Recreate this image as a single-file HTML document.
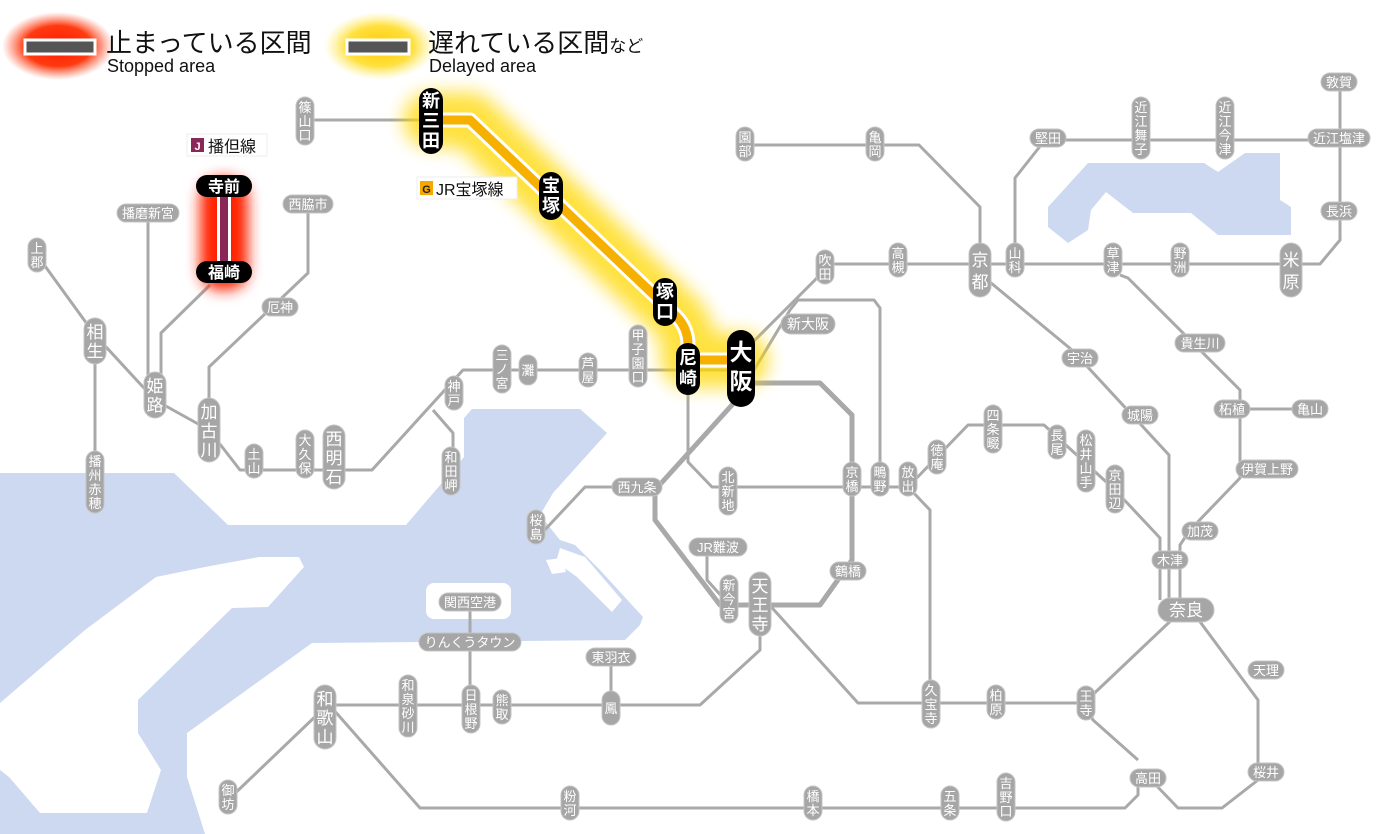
<!DOCTYPE html>
<html><head><meta charset="utf-8"><style>
html,body{margin:0;padding:0;background:#fff;width:1400px;height:834px;overflow:hidden}
svg{display:block}
.s{fill:#a6a6a6;stroke:#c4c4c4;stroke-width:1}
.b{fill:#000}
.t{fill:#fff;font-family:"Liberation Sans","Noto Sans CJK JP",sans-serif;font-size:13px;text-anchor:middle}
.T{fill:#fff;font-family:"Liberation Sans","Noto Sans CJK JP",sans-serif;font-size:17px;text-anchor:middle}
.B{fill:#fff;font-family:"Liberation Sans","Noto Sans CJK JP",sans-serif;font-size:18px;font-weight:bold;text-anchor:middle}
.l{fill:none;stroke:#a9a9a9;stroke-width:3;stroke-linejoin:round}
.lg{font-family:"Liberation Sans","Noto Sans CJK JP",sans-serif;fill:#111}
</style></head><body>
<svg width="1400" height="834" viewBox="0 0 1400 834" xmlns="http://www.w3.org/2000/svg">
<defs>
<filter id="bl" x="-50%" y="-50%" width="200%" height="200%"><feGaussianBlur stdDeviation="9"/></filter>
<filter id="bl2" x="-50%" y="-50%" width="200%" height="200%"><feGaussianBlur stdDeviation="7"/></filter>
<radialGradient id="rg"><stop offset="0" stop-color="#ff1a00"/><stop offset="0.6" stop-color="#ff3a10"/><stop offset="1" stop-color="#ff6040" stop-opacity="0"/></radialGradient>
<radialGradient id="yg"><stop offset="0" stop-color="#ffcc00"/><stop offset="0.6" stop-color="#ffe040"/><stop offset="1" stop-color="#fff080" stop-opacity="0"/></radialGradient>
</defs>
<!-- sea -->
<polygon fill="#ccd9f0" points="0,473 174,473 228,525 406,525 464,457 464,418 472,409 580,409 607,433 553,493 540,515 560,540 575,545 600,570 643,617 640,625 625,640 312,643 187,733 187,777 205,834 0,834"/>
<polygon fill="#fff" points="0,703 85,630 156,577 205,567 259,557 299,557 304,567 268,607 232,608 138,700 138,733 161,770 147,813 40,813 9,777 0,770"/>
<polygon fill="#fff" points="560,548 585,557 622,600 612,612 577,577 556,562"/>
<polygon fill="#fff" points="546,560 562,558 566,572 552,574"/>
<rect x="426" y="583" width="85" height="36" rx="8" fill="#fff"/>
<polygon fill="#ccd9f0" points="1088,163 1204,163 1218,172 1245,153 1280,153 1280,200 1291,207 1291,235 1218,235 1191,213 1133,213 1106,192 1091,210 1088,230 1068,243 1048,227 1048,207"/>

<!-- gray lines -->
<g class="l">
<path d="M305,120 L431,120"/>
<path d="M37,255 L95,335 L155,400 L209,430 L240,470 L372,470 L463,370 L741,370"/>
<path d="M433,410 L453,433 L453,480"/>
<path d="M95,335 L95,490"/>
<path d="M148,213 L148,400"/>
<path d="M161,400 L161,333 L210,285"/>
<path d="M209,430 L209,367 L308,273 L308,204"/>
<path d="M688,370 L688,462 L712,487 L908,487"/>
<path d="M637,487 L585,487 L540,535"/>
<path d="M745,350 L815,280 L830,264 L1320,264 L1340,240 L1340,82"/>
<path d="M748,380 L790,310 L798,300 L874,300 L880,308 L880,487"/>
<path d="M980,265 L980,207 L919,145 L745,145"/>
<path d="M1015,265 L1015,178 L1045,140 L1339,140"/>
<path d="M985,278 L1072,350 L1169,455 L1169,600"/>
<path d="M1120,275 L1128,278 L1240,390 L1240,478 L1190,530 L1180,545 L1180,600"/>
<path d="M1232,409 L1310,409"/>
<path d="M908,487 L968,425 L1044,425 L1115,490 L1160,538 L1160,600"/>
<path d="M1180,612 L1084,703 L858,703 L765,600"/>
<path d="M1195,615 L1258,700 L1258,780 L1222,808 L1178,808 L1151,780"/>
<path d="M1138,760 L1093,720 L1084,703"/>
<path d="M1138,780 L1138,795 L1125,808 L420,808 L325,700"/>
<path d="M760,628 L760,650 L700,705 L325,705"/>
<path d="M470,602 L470,705"/>
<path d="M611,657 L611,705"/>
<path d="M320,712 L228,800"/>
<path d="M707,547 L707,580 L725,600"/>
<path d="M908,487 L930,510 L930,705"/>
<path d="M741,383 L820,383 L852,415 L852,560 L820,605 L720,605 L655,520 L655,490 L741,395" stroke-width="5"/>
</g>

<!-- glows -->
<path d="M431,120 L470,120 L676,316 Q688,328 688,345 L688,360 L741,360" fill="none" stroke="#ffd800" stroke-width="55" stroke-linejoin="round" stroke-linecap="round" filter="url(#bl)" opacity="0.75"/>
<rect x="200" y="178" width="48" height="112" rx="20" fill="#ff2000" filter="url(#bl2)"/>
<path d="M431,120 L470,120 L676,316 Q688,328 688,345 L688,360 L741,360" fill="none" stroke="#fff" stroke-width="15" stroke-linejoin="round"/>
<path d="M431,120 L470,120 L676,316 Q688,328 688,345 L688,360 L741,360" fill="none" stroke="#f5b000" stroke-width="9" stroke-linejoin="round"/>
<path d="M224,190 L224,265" stroke="#fff" stroke-width="14"/>
<path d="M224,190 L224,265" stroke="#8a2756" stroke-width="8"/>

<!-- small vertical labels -->
<g>
<rect class="s" x="296" y="97" width="18" height="48" rx="9"/><text class="t"><tspan x="305" y="112">篠</tspan><tspan x="305" y="126">山</tspan><tspan x="305" y="140">口</tspan></text>
<rect class="s" x="28" y="238" width="18" height="34" rx="9"/><text class="t"><tspan x="37" y="253">上</tspan><tspan x="37" y="267">郡</tspan></text>
<rect class="s" x="245" y="444" width="18" height="34" rx="9"/><text class="t"><tspan x="254" y="459">土</tspan><tspan x="254" y="473">山</tspan></text>
<rect class="s" x="296" y="430" width="18" height="48" rx="9"/><text class="t"><tspan x="305" y="445">大</tspan><tspan x="305" y="459">久</tspan><tspan x="305" y="473">保</tspan></text>
<rect class="s" x="86" y="451" width="18" height="62" rx="9"/><text class="t"><tspan x="95" y="466">播</tspan><tspan x="95" y="480">州</tspan><tspan x="95" y="494">赤</tspan><tspan x="95" y="508">穂</tspan></text>
<rect class="s" x="445" y="376" width="18" height="34" rx="9"/><text class="t"><tspan x="454" y="391">神</tspan><tspan x="454" y="405">戸</tspan></text>
<rect class="s" x="493" y="345" width="18" height="48" rx="9"/><text class="t"><tspan x="502" y="360">三</tspan><tspan x="502" y="374">ノ</tspan><tspan x="502" y="388">宮</tspan></text>
<rect class="s" x="519" y="355" width="18" height="30" rx="9"/><text class="t"><tspan x="528" y="375">灘</tspan></text>
<rect class="s" x="579" y="353" width="18" height="34" rx="9"/><text class="t"><tspan x="588" y="368">芦</tspan><tspan x="588" y="382">屋</tspan></text>
<rect class="s" x="629" y="325" width="18" height="62" rx="9"/><text class="t"><tspan x="638" y="340">甲</tspan><tspan x="638" y="354">子</tspan><tspan x="638" y="368">園</tspan><tspan x="638" y="382">口</tspan></text>
<rect class="s" x="442" y="447" width="18" height="48" rx="9"/><text class="t"><tspan x="451" y="462">和</tspan><tspan x="451" y="476">田</tspan><tspan x="451" y="490">岬</tspan></text>
<rect class="s" x="527" y="510" width="18" height="34" rx="9"/><text class="t"><tspan x="536" y="525">桜</tspan><tspan x="536" y="539">島</tspan></text>
<rect class="s" x="719" y="467" width="18" height="48" rx="9"/><text class="t"><tspan x="728" y="482">北</tspan><tspan x="728" y="496">新</tspan><tspan x="728" y="510">地</tspan></text>
<rect class="s" x="720" y="575" width="18" height="48" rx="9"/><text class="t"><tspan x="729" y="590">新</tspan><tspan x="729" y="604">今</tspan><tspan x="729" y="618">宮</tspan></text>
<rect class="s" x="843" y="462" width="18" height="34" rx="9"/><text class="t"><tspan x="852" y="477">京</tspan><tspan x="852" y="491">橋</tspan></text>
<rect class="s" x="871" y="462" width="18" height="34" rx="9"/><text class="t"><tspan x="880" y="477">鴫</tspan><tspan x="880" y="491">野</tspan></text>
<rect class="s" x="899" y="462" width="18" height="34" rx="9"/><text class="t"><tspan x="908" y="477">放</tspan><tspan x="908" y="491">出</tspan></text>
<rect class="s" x="928" y="440" width="18" height="34" rx="9"/><text class="t"><tspan x="937" y="455">徳</tspan><tspan x="937" y="469">庵</tspan></text>
<rect class="s" x="984" y="405" width="18" height="48" rx="9"/><text class="t"><tspan x="993" y="420">四</tspan><tspan x="993" y="434">条</tspan><tspan x="993" y="448">畷</tspan></text>
<rect class="s" x="1048" y="425" width="18" height="34" rx="9"/><text class="t"><tspan x="1057" y="440">長</tspan><tspan x="1057" y="454">尾</tspan></text>
<rect class="s" x="1077" y="430" width="18" height="62" rx="9"/><text class="t"><tspan x="1086" y="445">松</tspan><tspan x="1086" y="459">井</tspan><tspan x="1086" y="473">山</tspan><tspan x="1086" y="487">手</tspan></text>
<rect class="s" x="1106" y="465" width="18" height="48" rx="9"/><text class="t"><tspan x="1115" y="480">京</tspan><tspan x="1115" y="494">田</tspan><tspan x="1115" y="508">辺</tspan></text>
<rect class="s" x="816" y="250" width="18" height="34" rx="9"/><text class="t"><tspan x="825" y="265">吹</tspan><tspan x="825" y="279">田</tspan></text>
<rect class="s" x="889" y="243" width="18" height="34" rx="9"/><text class="t"><tspan x="898" y="258">高</tspan><tspan x="898" y="272">槻</tspan></text>
<rect class="s" x="1006" y="243" width="18" height="34" rx="9"/><text class="t"><tspan x="1015" y="258">山</tspan><tspan x="1015" y="272">科</tspan></text>
<rect class="s" x="1104" y="243" width="18" height="34" rx="9"/><text class="t"><tspan x="1113" y="258">草</tspan><tspan x="1113" y="272">津</tspan></text>
<rect class="s" x="1171" y="243" width="18" height="34" rx="9"/><text class="t"><tspan x="1180" y="258">野</tspan><tspan x="1180" y="272">洲</tspan></text>
<rect class="s" x="736" y="127" width="18" height="34" rx="9"/><text class="t"><tspan x="745" y="142">園</tspan><tspan x="745" y="156">部</tspan></text>
<rect class="s" x="866" y="127" width="18" height="34" rx="9"/><text class="t"><tspan x="875" y="142">亀</tspan><tspan x="875" y="156">岡</tspan></text>
<rect class="s" x="1132" y="97" width="18" height="62" rx="9"/><text class="t"><tspan x="1141" y="112">近</tspan><tspan x="1141" y="126">江</tspan><tspan x="1141" y="140">舞</tspan><tspan x="1141" y="154">子</tspan></text>
<rect class="s" x="1216" y="97" width="18" height="62" rx="9"/><text class="t"><tspan x="1225" y="112">近</tspan><tspan x="1225" y="126">江</tspan><tspan x="1225" y="140">今</tspan><tspan x="1225" y="154">津</tspan></text>
<rect class="s" x="399" y="675" width="18" height="62" rx="9"/><text class="t"><tspan x="408" y="690">和</tspan><tspan x="408" y="704">泉</tspan><tspan x="408" y="718">砂</tspan><tspan x="408" y="732">川</tspan></text>
<rect class="s" x="462" y="685" width="18" height="48" rx="9"/><text class="t"><tspan x="471" y="700">日</tspan><tspan x="471" y="714">根</tspan><tspan x="471" y="728">野</tspan></text>
<rect class="s" x="493" y="690" width="18" height="34" rx="9"/><text class="t"><tspan x="502" y="705">熊</tspan><tspan x="502" y="719">取</tspan></text>
<rect class="s" x="602" y="691" width="18" height="34" rx="9"/><text class="t"><tspan x="611" y="713">鳳</tspan></text>
<rect class="s" x="219" y="780" width="18" height="34" rx="9"/><text class="t"><tspan x="228" y="795">御</tspan><tspan x="228" y="809">坊</tspan></text>
<rect class="s" x="561" y="786" width="18" height="34" rx="9"/><text class="t"><tspan x="570" y="801">粉</tspan><tspan x="570" y="815">河</tspan></text>
<rect class="s" x="804" y="786" width="18" height="34" rx="9"/><text class="t"><tspan x="813" y="801">橋</tspan><tspan x="813" y="815">本</tspan></text>
<rect class="s" x="941" y="786" width="18" height="34" rx="9"/><text class="t"><tspan x="950" y="801">五</tspan><tspan x="950" y="815">条</tspan></text>
<rect class="s" x="997" y="773" width="18" height="48" rx="9"/><text class="t"><tspan x="1006" y="788">吉</tspan><tspan x="1006" y="802">野</tspan><tspan x="1006" y="816">口</tspan></text>
<rect class="s" x="922" y="680" width="18" height="48" rx="9"/><text class="t"><tspan x="931" y="695">久</tspan><tspan x="931" y="709">宝</tspan><tspan x="931" y="723">寺</tspan></text>
<rect class="s" x="987" y="685" width="18" height="34" rx="9"/><text class="t"><tspan x="996" y="700">柏</tspan><tspan x="996" y="714">原</tspan></text>
<rect class="s" x="1077" y="686" width="18" height="34" rx="9"/><text class="t"><tspan x="1086" y="701">王</tspan><tspan x="1086" y="715">寺</tspan></text>
</g>

<!-- big vertical labels -->
<g>
<rect class="s" x="84" y="318" width="22" height="46" rx="11"/><text class="T"><tspan x="95" y="338">相</tspan><tspan x="95" y="357">生</tspan></text>
<rect class="s" x="144" y="372" width="22" height="46" rx="11"/><text class="T"><tspan x="155" y="392">姫</tspan><tspan x="155" y="411">路</tspan></text>
<rect class="s" x="198" y="398" width="22" height="64" rx="11"/><text class="T"><tspan x="209" y="418">加</tspan><tspan x="209" y="437">古</tspan><tspan x="209" y="456">川</tspan></text>
<rect class="s" x="323" y="425" width="22" height="64" rx="11"/><text class="T"><tspan x="334" y="445">西</tspan><tspan x="334" y="464">明</tspan><tspan x="334" y="483">石</tspan></text>
<rect class="s" x="749" y="572" width="22" height="64" rx="11"/><text class="T"><tspan x="760" y="592">天</tspan><tspan x="760" y="611">王</tspan><tspan x="760" y="630">寺</tspan></text>
<rect class="s" x="969" y="243" width="22" height="54" rx="11"/><text class="T"><tspan x="980" y="266">京</tspan><tspan x="980" y="288">都</tspan></text>
<rect class="s" x="1280" y="243" width="22" height="54" rx="11"/><text class="T"><tspan x="1291" y="266">米</tspan><tspan x="1291" y="288">原</tspan></text>
<rect class="s" x="314" y="685" width="22" height="64" rx="11"/><text class="T"><tspan x="325" y="705">和</tspan><tspan x="325" y="724">歌</tspan><tspan x="325" y="743">山</tspan></text>
</g>

<!-- horizontal labels -->
<g>
<rect class="s" x="117" y="204" width="62" height="18" rx="9"/><text class="t" x="148" y="218">播磨新宮</text>
<rect class="s" x="283" y="195" width="50" height="18" rx="9"/><text class="t" x="308" y="209">西脇市</text>
<rect class="s" x="262" y="298" width="36" height="18" rx="9"/><text class="t" x="280" y="312">厄神</text>
<rect class="s" x="781" y="314" width="54" height="20" rx="10"/><text class="t" x="808" y="329" style="font-size:14px">新大阪</text>
<rect class="s" x="612" y="478" width="50" height="18" rx="9"/><text class="t" x="637" y="492">西九条</text>
<rect class="s" x="689" y="538" width="58" height="18" rx="9"/><text class="t" x="718" y="552">JR難波</text>
<rect class="s" x="830" y="562" width="36" height="18" rx="9"/><text class="t" x="848" y="576">鶴橋</text>
<rect class="s" x="439" y="593" width="62" height="18" rx="9"/><text class="t" x="470" y="607">関西空港</text>
<rect class="s" x="419" y="633" width="102" height="18" rx="9"/><text class="t" x="470" y="647">りんくうタウン</text>
<rect class="s" x="586" y="648" width="50" height="18" rx="9"/><text class="t" x="611" y="662">東羽衣</text>
<rect class="s" x="1062" y="349" width="36" height="18" rx="9"/><text class="t" x="1080" y="363">宇治</text>
<rect class="s" x="1122" y="406" width="36" height="18" rx="9"/><text class="t" x="1140" y="420">城陽</text>
<rect class="s" x="1030" y="129" width="36" height="18" rx="9"/><text class="t" x="1048" y="143">堅田</text>
<rect class="s" x="1321" y="73" width="36" height="18" rx="9"/><text class="t" x="1339" y="87">敦賀</text>
<rect class="s" x="1308" y="129" width="62" height="18" rx="9"/><text class="t" x="1339" y="143">近江塩津</text>
<rect class="s" x="1321" y="202" width="36" height="18" rx="9"/><text class="t" x="1339" y="216">長浜</text>
<rect class="s" x="1175" y="334" width="50" height="18" rx="9"/><text class="t" x="1200" y="348">貴生川</text>
<rect class="s" x="1214" y="400" width="36" height="18" rx="9"/><text class="t" x="1232" y="414">柘植</text>
<rect class="s" x="1292" y="400" width="36" height="18" rx="9"/><text class="t" x="1310" y="414">亀山</text>
<rect class="s" x="1236" y="460" width="62" height="18" rx="9"/><text class="t" x="1267" y="474">伊賀上野</text>
<rect class="s" x="1182" y="522" width="36" height="18" rx="9"/><text class="t" x="1200" y="536">加茂</text>
<rect class="s" x="1152" y="551" width="36" height="18" rx="9"/><text class="t" x="1170" y="565">木津</text>
<rect class="s" x="1158" y="598" width="56" height="24" rx="12"/><text class="T" x="1186" y="616">奈良</text>
<rect class="s" x="1248" y="661" width="36" height="18" rx="9"/><text class="t" x="1266" y="675">天理</text>
<rect class="s" x="1248" y="763" width="36" height="18" rx="9"/><text class="t" x="1266" y="777">桜井</text>
<rect class="s" x="1130" y="769" width="36" height="18" rx="9"/><text class="t" x="1148" y="783">高田</text>
</g>

<!-- black stations -->
<g>
<rect class="b" x="419" y="88" width="24" height="66" rx="12"/><text class="B"><tspan x="431" y="107">新</tspan><tspan x="431" y="127">三</tspan><tspan x="431" y="147">田</tspan></text>
<rect class="b" x="539" y="172" width="24" height="48" rx="12"/><text class="B"><tspan x="551" y="192">宝</tspan><tspan x="551" y="212">塚</tspan></text>
<rect class="b" x="653" y="278" width="24" height="48" rx="12"/><text class="B"><tspan x="665" y="298">塚</tspan><tspan x="665" y="318">口</tspan></text>
<rect class="b" x="676" y="343" width="24" height="52" rx="12"/><text class="B"><tspan x="688" y="364">尼</tspan><tspan x="688" y="385">崎</tspan></text>
<rect class="b" x="727" y="330" width="28" height="77" rx="14"/><text class="B" style="font-size:23px"><tspan x="741" y="360">大</tspan><tspan x="741" y="389">阪</tspan></text>
<rect class="b" x="196" y="175" width="56" height="22" rx="11"/><text class="B" style="font-size:16px" x="224" y="192">寺前</text>
<rect class="b" x="196" y="261" width="56" height="22" rx="11"/><text class="B" style="font-size:16px" x="224" y="278">福崎</text>
</g>

<!-- line name tags -->
<g>
<rect x="187" y="134" width="80" height="22" fill="#fff" stroke="#eee"/>
<rect x="191" y="138" width="13" height="14" fill="#8a2756"/><text x="197.5" y="150" style="font-family:'Liberation Sans',sans-serif;font-size:11px;font-weight:bold;fill:#fff;text-anchor:middle">J</text>
<text class="lg" x="208" y="152" style="font-size:16px">播但線</text>
<rect x="417" y="177" width="100" height="22" fill="#fff" stroke="#eee"/>
<rect x="420" y="181" width="13" height="14" fill="#f5a800"/><text x="426.5" y="193" style="font-family:'Liberation Sans',sans-serif;font-size:11px;font-weight:bold;fill:#222;text-anchor:middle">G</text>
<text class="lg" x="436" y="195" style="font-size:16px">JR宝塚線</text>
</g>

<!-- legend -->
<ellipse cx="58" cy="46" rx="56" ry="34" fill="url(#rg)"/>
<rect x="25" y="40" width="70" height="14" fill="#555" stroke="#fff" stroke-width="3"/>
<text class="lg" x="106" y="52" style="font-size:26px">止まっている区間</text>
<text class="lg" x="107" y="72" style="font-size:18px">Stopped area</text>
<ellipse cx="380" cy="46" rx="56" ry="34" fill="url(#yg)"/>
<rect x="347" y="40" width="62" height="14" fill="#555" stroke="#fff" stroke-width="3"/>
<text class="lg" x="428" y="52" style="font-size:26px">遅れている区間<tspan style="font-size:17px">など</tspan></text>
<text class="lg" x="429" y="72" style="font-size:18px">Delayed area</text>
</svg>
</body></html>
